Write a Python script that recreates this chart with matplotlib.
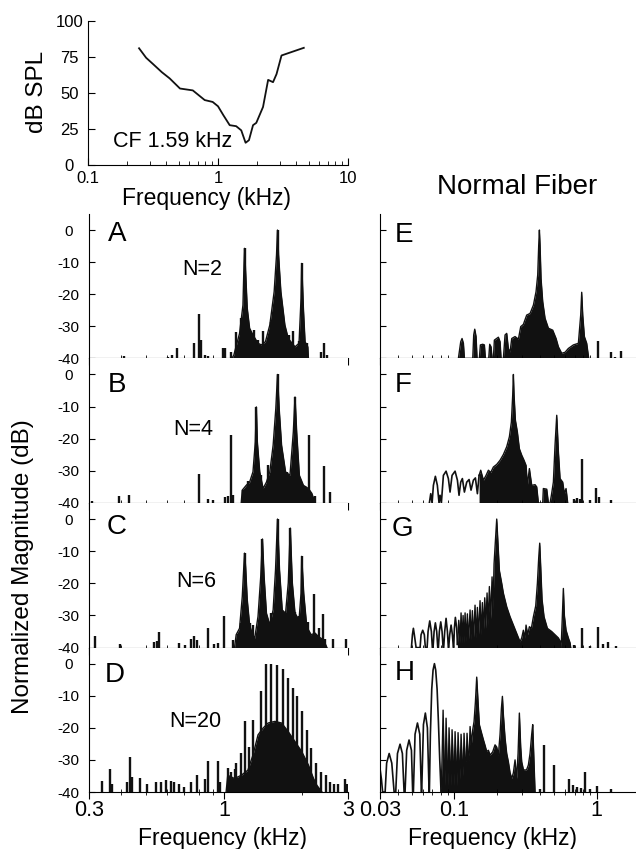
import matplotlib
matplotlib.use("Agg")
import matplotlib.pyplot as plt
from matplotlib.ticker import LogLocator, NullFormatter

plt.rcParams['font.family'] = ['Liberation Sans', 'DejaVu Sans']

# tuning curve (kHz, dB SPL)
tc_f = [0.247, 0.28, 0.316, 0.37, 0.425, 0.51, 0.64, 0.79, 0.91, 1.0, 1.1, 1.23, 1.38,
        1.51, 1.63, 1.73, 1.86, 1.97, 2.22, 2.43, 2.65, 2.82, 3.08, 4.57]
tc_db = [80.9, 74.3, 70, 64.3, 60, 53, 51.7, 45, 43.7, 40.7, 34.5, 27.6, 26.9,
         24, 15.4, 17.2, 27.6, 29.2, 40.2, 59, 57.4, 63, 75.9, 81.2]

# --- left column: N-component stimuli (kHz, dB) ---
a_fill_f = [1.068, 1.087, 1.100, 1.144, 1.179, 1.190, 1.196, 1.204, 1.225, 1.251, 1.289, 1.348,
            1.389, 1.440, 1.497, 1.556, 1.589, 1.603, 1.618, 1.652, 1.712, 1.764, 1.873, 1.941,
            1.976, 1.988, 2.018, 2.048, 2.098, 2.110]
a_fill_db = [-40, -39, -37.4, -32.2, -23.4, -10.9, -5.7, -10.9, -24.4, -30.6, -32.7, -35.3,
             -35.8, -34.8, -29.6, -19.2, -7.8, 0, -7.8, -19.2, -29.6, -33.8, -36.4, -35.3,
             -21.3, -10.4, -24.4, -34.8, -36.4, -40]
a_spike_f = [0.408, 0.605, 0.629, 0.658, 0.760, 0.795, 0.811, 0.841, 0.861, 0.991, 1.009, 1.061,
             1.110, 1.161, 1.196, 1.251, 1.301, 1.348, 1.410, 1.475, 1.519, 1.603, 1.775, 1.834,
             1.941, 1.988, 2.079, 2.364, 2.414, 2.487]
a_spike_db = [-39.2, -39.5, -39.0, -36.7, -35.1, -26.3, -34.3, -39.0, -39.3, -36.7, -36.9, -37.9,
              -31.9, -27.5, -5.7, -32.2, -31.0, -34.3, -31.5, -34.3, -28.6, 0.0, -32.7, -31.5,
              -34.6, -10.4, -35.3, -37.9, -35.1, -38.8]

b_fill_f = [1.161, 1.172, 1.214, 1.251, 1.289, 1.316, 1.328, 1.340, 1.369, 1.410, 1.453, 1.497,
            1.542, 1.579, 1.603, 1.627, 1.662, 1.722, 1.791, 1.845, 1.873, 1.901, 1.947, 2.018,
            2.110, 2.175, 2.240]
b_fill_db = [-40, -36, -34.5, -33.5, -30.3, -21, -10.1, -21, -30.3, -35.5, -33.5, -30.3,
             -22, -10.6, 0, -10.6, -22, -30.3, -31.4, -17.9, -7, -17.9, -31.4, -34.5,
             -35.5, -37, -40]
b_spike_f = [0.307, 0.390, 0.427, 0.799, 0.861, 0.901, 1.006, 1.030, 1.061, 1.084, 1.179, 1.196,
             1.232, 1.270, 1.328, 1.389, 1.475, 1.519, 1.603, 1.687, 1.738, 1.873, 1.988, 2.048,
             2.129, 2.240, 2.414, 2.563]
b_spike_db = [-39.5, -37.9, -37.6, -30.9, -38.9, -39.2, -38.0, -37.8, -18.9, -37.5, -36.0, -35.5,
              -33.0, -34.5, -10.1, -31.4, -28.3, -31.4, 0, -31.4, -30.5, -7.0, -35.0, -34.7,
              -18.7, -37.8, -28.5, -36.6]

c_fill_f = [1.094, 1.110, 1.144, 1.172, 1.190, 1.196, 1.207, 1.225, 1.251, 1.278, 1.309, 1.348,
            1.381, 1.402, 1.423, 1.453, 1.497, 1.542, 1.575, 1.603, 1.632, 1.672, 1.722, 1.764,
            1.796, 1.829, 1.873, 1.941, 1.976, 1.988, 2.024, 2.079, 2.161, 2.240, 2.308, 2.414,
            2.487]
c_fill_db = [-40, -36, -34, -24.1, -13.7, -10.6, -14.8, -25.1, -32.9, -35.5, -37.1, -30.3,
             -17.9, -6.2, -17.9, -29.3, -32.9, -28.3, -15.8, 0, -15.8, -28.3, -29.3, -19.9,
             -2.8, -19.9, -29.3, -31.4, -23.1, -11.6, -23.1, -33.5, -36, -35.5, -36.6, -37.6,
             -40]
c_spike_f = [0.317, 0.394, 0.534, 0.547, 0.558, 0.668, 0.703, 0.742, 0.760, 0.783, 0.866, 0.914,
             0.948, 0.994, 1.077, 1.127, 1.161, 1.196, 1.251, 1.289, 1.402, 1.519, 1.603, 1.722,
             1.796, 1.873, 1.941, 1.988, 2.110, 2.208, 2.308, 2.400, 2.451, 2.617, 2.949]
c_spike_db = [-36.4, -39.0, -38.4, -38.1, -35.3, -38.6, -39.2, -37.4, -36.4, -37.6, -33.8, -38.9,
              -38.6, -30.1, -37.6, -35.7, -32.4, -10.6, -32.4, -32.9, -6.2, -29.3, 0, -29.3,
              -2.8, -28.8, -30.3, -11.6, -31.9, -23.4, -34.0, -29.6, -37.4, -37.4, -37.4]

d_fill_f = [1.015, 1.030, 1.094, 1.161, 1.232, 1.289, 1.348, 1.410, 1.475, 1.565, 1.662, 1.764,
            1.873, 1.988, 2.110, 2.208, 2.274, 2.379]
d_fill_db = [-40, -34.8, -35.8, -34.8, -33.2, -28.5, -22.2, -20.1, -18.5, -18.0, -18.5, -21.2,
             -24.3, -27.4, -31.6, -35.8, -37.9, -40]
d_spike_f = [0.336, 0.360, 0.367, 0.420, 0.431, 0.440, 0.474, 0.503, 0.542, 0.567, 0.593, 0.620,
             0.639, 0.668, 0.699, 0.742, 0.787, 0.841, 0.861, 0.942, 0.965, 1.030, 1.061, 1.094,
             1.110, 1.161, 1.204, 1.240, 1.289, 1.381, 1.448, 1.519, 1.594, 1.677, 1.764, 1.834,
             1.912, 1.988, 2.079, 2.161, 2.262, 2.364, 2.465, 2.563, 2.641, 2.745, 2.932, 2.98]
d_spike_db = [-36.6, -32.7, -37.5, -36.9, -29.0, -35.3, -35.6, -37.4, -36.9, -36.9, -36.3, -36.6,
              -36.9, -37.4, -38.4, -36.9, -34.8, -35.8, -30.4, -30.4, -36.9, -32.5, -33.7, -32.9,
              -31.1, -28.0, -18.0, -26.0, -17.5, -8.6, 0, -0.2, -0.5, -1.8, -4.4, -7.5,
              -10.2, -14.9, -20.6, -26.4, -31.1, -33.8, -34.8, -36.9, -37.4, -37.4, -35.8, -37.5]

# --- right column: same stimuli, lower frequencies ---
e_fill_f = [0.1067, 0.1108, 0.1132, 0.1157, 0.1176, 0.1346, 0.1367, 0.139, 0.142, 0.1443,
            0.1498, 0.1523, 0.1582, 0.1625, 0.1651, 0.1743, 0.1771, 0.181, 0.184, 0.188,
            0.191, 0.2038, 0.2094, 0.2128, 0.221, 0.227, 0.2332, 0.2396, 0.2462, 0.253,
            0.2669, 0.2818, 0.2926, 0.3054, 0.3223, 0.3402, 0.3592, 0.3749, 0.3852, 0.3915,
            0.3958, 0.4, 0.4064, 0.4176, 0.4337, 0.4578, 0.4909, 0.5184, 0.5383, 0.5679,
            0.5995, 0.6326, 0.686, 0.7438, 0.7724, 0.785, 0.798, 0.8197, 0.851, 0.879]
e_fill_db = [-40, -34.8, -33.8, -35.3, -40, -40, -32.7, -30.9, -33.2, -40,
             -40, -35.8, -35.6, -35.8, -40, -40, -35.6, -36.4, -40, -40,
             -34.3, -33.4, -34.8, -40, -40, -32.7, -32.2, -37, -38, -33.8,
             -33.2, -34, -30.1, -29.4, -26.5, -26, -23.4, -19.2, -14, -4.7,
             0, -4.7, -15.1, -22.3, -27.5, -30.6, -31.2, -33.8, -36.4, -38.4,
             -38.1, -36.9, -35.8, -35.3, -26.5, -19.4, -26.5, -33.2, -35.3, -40]
e_spike_f = [0.64, 0.693, 1.028, 1.255, 1.346, 1.475]
e_spike_db = [-37.5, -37.0, -34.6, -37.9, -39.5, -37.6]

f_lobe_f = [0.0667, 0.0682, 0.0697, 0.0712, 0.0735, 0.0759, 0.078, 0.0793, 0.081, 0.0837,
            0.0874, 0.0907, 0.0932, 0.0963, 0.1011, 0.105, 0.1078, 0.1108, 0.1138, 0.1176,
            0.1221, 0.1268, 0.1309, 0.136, 0.1405, 0.1451, 0.1491]
f_lobe_db = [-40, -37.1, -40, -34.5, -31.7, -34.5, -40, -37.6, -40, -31.4,
             -30.1, -32.4, -36.6, -31.4, -30.1, -32.9, -37.6, -33.5, -32.4, -36.6,
             -33.5, -32.7, -36.0, -32.9, -32.2, -37.1, -31.4]
f_fill_f = [0.1491, 0.1531, 0.16, 0.167, 0.1734, 0.18, 0.188, 0.1984, 0.2094, 0.221,
            0.2332, 0.2435, 0.2515, 0.257, 0.2598, 0.2626, 0.2683, 0.2771, 0.2862, 0.2972,
            0.3086, 0.3189, 0.3258, 0.3366, 0.3495, 0.3689, 0.379, 0.3894, 0.4176, 0.422,
            0.4456, 0.4578, 0.4703, 0.4806, 0.4963, 0.5098, 0.524, 0.5383, 0.553, 0.5771,
            0.5929, 0.6092, 0.6258]
f_fill_db = [-31.4, -29.8, -32.9, -31.4, -29.8, -30.5, -28.8, -28.0, -26.7, -24.9,
             -22.5, -19.4, -14.8, -6.4, 0, -6.4, -14.2, -17.9, -23.1, -25.1,
             -26.7, -28.3, -34.5, -29.3, -34.5, -34.3, -35.0, -40, -40, -35.5,
             -35.7, -40, -40, -37.6, -33.5, -22.0, -12.7, -24.1, -32.4, -33.5,
             -37.1, -35.5, -40]
f_spike_f = [0.693, 0.732, 0.764, 0.789, 0.898, 0.99, 1.045, 1.255]
f_spike_db = [-38.6, -38.4, -38.6, -26.2, -39.2, -35.3, -38.1, -39.2]

g_lobe_f = [0.0499, 0.0507, 0.0515, 0.0523, 0.0538, 0.0574, 0.0583, 0.0599, 0.0615, 0.0625,
            0.0643, 0.0653, 0.0671, 0.0689, 0.0700, 0.0708, 0.0720, 0.0735, 0.0751, 0.0764,
            0.0772, 0.0784, 0.0802, 0.0819, 0.0833, 0.0841, 0.0855, 0.0874, 0.0893, 0.0907,
            0.0912, 0.0927, 0.0948, 0.0968, 0.0984, 0.0989, 0.1, 0.1016, 0.1038, 0.105]
g_lobe_db = [-40, -36, -34.0, -36, -40, -40, -36, -34.6, -36, -40,
             -40, -35, -31.7, -35, -40, -40, -35, -32.3, -35, -40,
             -40, -35, -32.0, -35, -40, -40, -35, -30.9, -35, -40,
             -40, -36, -33.0, -36, -40, -40, -34, -30.6, -34, -39]
g_fill_f = [0.1050, 0.1073, 0.1096, 0.1114, 0.1132, 0.1151, 0.1169, 0.1189, 0.1208, 0.1234,
            0.1254, 0.1289, 0.1309, 0.1338, 0.1360, 0.1397, 0.1420, 0.1451, 0.1475, 0.1515,
            0.1539, 0.1573, 0.1599, 0.1634, 0.1661, 0.1697, 0.1725, 0.1762, 0.1800, 0.1840,
            0.1869, 0.1900, 0.1941, 0.1984, 0.2027, 0.2071, 0.2151, 0.2210, 0.2332, 0.2462,
            0.2598, 0.2742, 0.2894, 0.2973, 0.3054, 0.3138, 0.3189, 0.3276, 0.3366, 0.3476,
            0.3592, 0.3730, 0.3832, 0.3915, 0.3979, 0.4044, 0.4131, 0.4267, 0.4503, 0.4831,
            0.5098, 0.5383, 0.5530, 0.5590, 0.5649, 0.5741, 0.5834, 0.5929, 0.6092, 0.6326,
            0.6499, 0.6570]
g_fill_db = [-39, -31.5, -38.5, -29.2, -38.5, -30, -38.5, -29.2, -38, -29.5,
             -38, -28.3, -37.5, -28.5, -37.5, -26.8, -37, -27.5, -36.5, -25.4,
             -36, -26, -35, -24.5, -34, -23, -33, -21, -31, -18,
             -28, -14, -7, 0, -8, -16, -20, -23.1, -27.3, -30.4,
             -33, -35.6, -38.2, -37, -34.6, -37, -33, -36, -33.5, -34,
             -30.4, -27, -20, -12, -7.5, -15, -25, -30.4, -34, -35,
             -36, -37, -38, -40, -38, -30, -21.6, -30, -34.6, -37,
             -38.5, -40]
g_spike_f = [0.6935, 0.785, 0.898, 1.022, 1.115, 1.208, 1.361]
g_spike_db = [-39.3, -34.0, -39.4, -33.5, -38.8, -38.2, -39.6]

h_lobe_f = [0.0300, 0.0307, 0.0313, 0.0326, 0.0334, 0.0348, 0.0363, 0.0377, 0.0387, 0.0398,
            0.0415, 0.0431, 0.0443, 0.0450, 0.0462, 0.0480, 0.0499, 0.0509, 0.0515, 0.0529,
            0.0550, 0.0571, 0.0586, 0.0589, 0.0606, 0.0625, 0.0646, 0.0664, 0.0667, 0.0678,
            0.0693, 0.0708, 0.0724, 0.0739, 0.0756, 0.0772, 0.0789, 0.0806]
h_lobe_db = [-32.7, -36, -40, -40, -31, -28, -31, -40, -40, -28,
             -25.1, -28, -40, -40, -27, -23.8, -27, -40, -40, -22,
             -18.5, -22, -40, -40, -19, -15.4, -20, -40, -40, -22,
             -8, -2, 0, -2, -8, -18, -30, -40]
h_fill_f = [0.0806, 0.0819, 0.0833, 0.0846, 0.0860, 0.0874, 0.0888, 0.0903, 0.0917, 0.0932,
            0.0948, 0.0963, 0.0979, 0.0995, 0.1011, 0.1027, 0.1044, 0.1061, 0.1078, 0.1096,
            0.1114, 0.1132, 0.1151, 0.1169, 0.1189, 0.1208, 0.1227, 0.1247, 0.1268, 0.1289,
            0.1317, 0.1346, 0.1375, 0.1405, 0.1435, 0.1467, 0.1498, 0.1539, 0.1599, 0.1643,
            0.1687, 0.1734, 0.1780, 0.1859, 0.1931, 0.1984, 0.2038, 0.2094, 0.2140, 0.2175,
            0.2210, 0.2270, 0.2332, 0.2396, 0.2462, 0.2530, 0.2598, 0.2669, 0.2742, 0.2803,
            0.2862, 0.2925, 0.2973, 0.3054, 0.3138, 0.3223, 0.3311, 0.3402, 0.3495, 0.3552,
            0.3610, 0.3689]
h_fill_db = [-40, -30, -14.5, -30, -38, -17, -30, -38, -20, -30,
             -38, -20.6, -30, -38, -21.2, -30, -38, -21.5, -30, -36,
             -22, -30, -35, -21.7, -30, -33, -21.7, -28, -30, -19.6,
             -25, -20.6, -18, -12, -4.2, -12, -19, -21, -23.7, -25.5,
             -27.4, -27, -28.5, -27.5, -25.3, -26, -28.5, -22, -14, -10.2,
             -16, -23.2, -28, -30.6, -34, -35.8, -34, -30, -35.8, -28,
             -15.4, -26, -30.6, -33, -33.2, -33, -31.6, -28, -22, -19,
             -28, -40]
h_spike_f = [0.40, 0.4267, 0.5017, 0.643, 0.686, 0.732, 0.772, 0.8285, 0.898, 1.0, 1.255]
h_spike_db = [-39, -25.3, -31.6, -35.8, -37.9, -38.4, -38.7, -33.7, -39.2, -38.2, -39.2]

letters = ['A', 'B', 'C', 'D', 'E', 'F', 'G', 'H']
n_labels = ['N=2', 'N=4', 'N=6', 'N=20']

INK = '#111111'
W, H = 636.0, 849.0
fig = plt.figure(figsize=(6.36, 8.49), dpi=100)


def add_ax(left, top, right, bottom):
    return fig.add_axes([left / W, 1 - bottom / H, (right - left) / W, (bottom - top) / H])


def px_text(x, y, s, size, **kw):
    fig.text(x / W, 1 - y / H, s, fontsize=size, **kw)


# tuning curve
ax = add_ax(88, 20.7, 348, 165)
ax.plot(tc_f, tc_db, color=INK, lw=1.3)
ax.set_xscale('log')
ax.set_xlim(0.1, 10)
ax.set_ylim(0, 100)
ax.spines['top'].set_visible(False)
ax.spines['right'].set_visible(False)
ax.set_yticks([0, 25, 50, 75, 100])
ax.set_xticks([0.1, 1, 10])
ax.set_xticklabels(['0.1', '1', '10'])
ax.xaxis.set_minor_locator(LogLocator(subs=range(2, 10)))
ax.xaxis.set_minor_formatter(NullFormatter())
ax.tick_params(which='both', direction='in', labelsize=12)
ax.tick_params(axis='x', pad=4)
ax.tick_params(axis='y', pad=13.5)
ax.tick_params(which='major', length=5)
ax.tick_params(which='minor', length=3)
for lbl in ax.get_yticklabels():
    lbl.set_horizontalalignment('center')
ax.text(0.095, 0.125, 'CF 1.59 kHz', transform=ax.transAxes, fontsize=15.5, va='baseline')
px_text(206, 205, 'Frequency (kHz)', 16.5, ha='center', va='baseline')
px_text(37, 92, 'dB SPL', 17.5, ha='center', va='center', rotation=90)
px_text(517, 194, 'Normal Fiber', 20, ha='center', va='baseline')

tops = [214, 358.4, 503, 647.6]
bottoms = [358.4, 503, 647.6, 792]

left_panels = [
    (a_fill_f, a_fill_db, a_spike_f, a_spike_db),
    (b_fill_f, b_fill_db, b_spike_f, b_spike_db),
    (c_fill_f, c_fill_db, c_spike_f, c_spike_db),
    (d_fill_f, d_fill_db, d_spike_f, d_spike_db),
]
right_panels = [
    (None, None, e_fill_f, e_fill_db, e_spike_f, e_spike_db),
    (f_lobe_f, f_lobe_db, f_fill_f, f_fill_db, f_spike_f, f_spike_db),
    (g_lobe_f, g_lobe_db, g_fill_f, g_fill_db, g_spike_f, g_spike_db),
    (h_lobe_f, h_lobe_db, h_fill_f, h_fill_db, h_spike_f, h_spike_db),
]


def style(ax, xlim, ticks, ticklabels, show_y, show_x):
    ax.set_xscale('log')
    ax.set_xlim(*xlim)
    ax.set_ylim(-40, 5)
    ax.spines['top'].set_visible(False)
    ax.spines['right'].set_visible(False)
    ax.set_yticks([0, -10, -20, -30, -40])
    if show_y:
        ax.set_yticklabels(['0', '-10', '-20', '-30', '-40'])
        for lbl in ax.get_yticklabels():
            lbl.set_horizontalalignment('center')
    else:
        ax.set_yticklabels([])
    ax.set_xticks(ticks)
    ax.set_xticklabels(ticklabels if show_x else [])
    ax.xaxis.set_minor_locator(LogLocator(subs=range(2, 10)))
    ax.xaxis.set_minor_formatter(NullFormatter())
    ax.tick_params(axis='y', direction='in', length=4.5, labelsize=11, pad=14.5)
    ax.tick_params(axis='x', which='major', direction='out', length=5, labelsize=15.5, pad=1)
    ax.tick_params(axis='x', which='minor', direction='inout', length=4)


def draw_spec(ax, fill_f, fill_db, spike_f, spike_db, lobe_f=None, lobe_db=None):
    ax.fill_between(fill_f, fill_db, -40, color=INK, lw=0)
    ax.plot(fill_f, fill_db, color=INK, lw=1.0)
    ax.vlines(spike_f, -40, spike_db, color=INK, lw=1.7)
    if lobe_f is not None:
        ax.plot(lobe_f, lobe_db, color=INK, lw=1.2)


for i in range(4):
    ax = add_ax(89, tops[i], 348, bottoms[i])
    ff, fd, sf, sd = left_panels[i]
    draw_spec(ax, ff, fd, sf, sd)
    style(ax, (0.3, 3), [0.3, 1, 3], ['0.3', '1', '3'], True, i == 3)

    ax = add_ax(380, tops[i], 636, bottoms[i])
    lf, ld, ff, fd, sf, sd = right_panels[i]
    draw_spec(ax, ff, fd, sf, sd, lf, ld)
    style(ax, (0.03, 1.89), [0.03, 0.1, 1], ['0.03', '0.1', '1'], False, i == 3)

# panel letters and N labels
letter_pos = [(108, 241), (108, 392), (107, 534), (105, 682),
              (395, 242), (395, 392), (392, 536), (395, 680)]
for s, (x, y) in zip(letters, letter_pos):
    px_text(x, y, s, 20, ha='left', va='baseline')
n_pos = [(202, 275), (193, 435), (196, 587), (195, 727)]
for s, (x, y) in zip(n_labels, n_pos):
    px_text(x, y, s, 15.5, ha='center', va='baseline')

px_text(222, 845, 'Frequency (kHz)', 16.5, ha='center', va='baseline')
px_text(492, 845, 'Frequency (kHz)', 16.5, ha='center', va='baseline')
px_text(23, 567, 'Normalized Magnitude (dB)', 17.5, ha='center', va='center', rotation=90)

fig.savefig('out.png', dpi=100)
